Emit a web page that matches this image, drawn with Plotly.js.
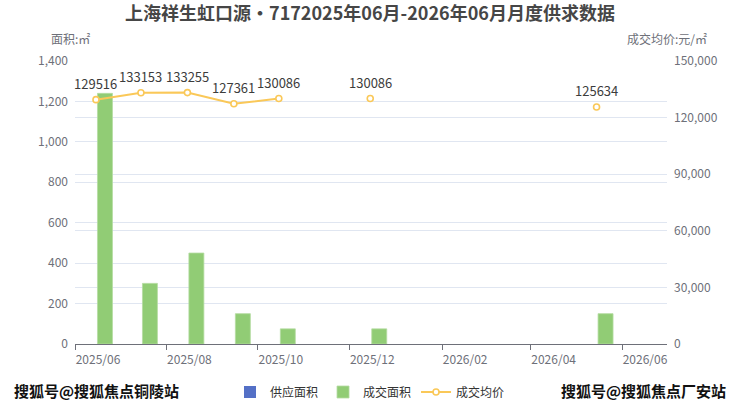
<!DOCTYPE html>
<html>
<head>
<meta charset="utf-8">
<script src="https://cdn.plot.ly/plotly-3.0.1.min.js"></script>
<style>html,body{margin:0;padding:0;background:#fff}#chart{width:740px;height:406px}</style>
</head>
<body>
<div id="chart"></div>
<script>
var months = ['2025-06-15','2025-07-15','2025-08-15','2025-09-15','2025-10-15','2025-11-15','2025-12-15','2026-01-15','2026-02-15','2026-03-15','2026-04-15','2026-05-15'];
var supplyArea = [null,null,null,null,null,null,null,null,null,null,null,null];
var dealArea = [1240,300,450,150,75,null,75,null,null,null,null,150];
var dealPrice = [129516,133153,133255,127361,130086,null,130086,null,null,null,null,125634];

var DAY = 86400000;
var FONT = '"Noto Sans CJK SC", "Noto Sans", sans-serif';

var traces = [
  {type:'bar', name:'供应面积', x:months, y:supplyArea, marker:{color:'#5470c6'},
   width:10*DAY, offset:-11*DAY, yaxis:'y', hoverinfo:'skip'},
  {type:'bar', name:'成交面积', x:months, y:dealArea, marker:{color:'#91cc75', line:{color:'#b5dca2', width:0.8}},
   width:10*DAY, offset:1*DAY, yaxis:'y'},
  {type:'scatter', mode:'lines+markers', name:'成交均价', x:months, y:dealPrice, yaxis:'y2',
   connectgaps:false, line:{color:'#fac858', width:2},
   marker:{symbol:'circle', size:6, color:'#ffffff', line:{color:'#fac858', width:1.6}}}
];

var labelAnnotations = [];
months.forEach(function(m, i){
  if (dealPrice[i] != null) {
    labelAnnotations.push({text:String(dealPrice[i]), x:m, y:dealPrice[i], xref:'x', yref:'y2',
      xanchor:'center', yanchor:'middle', yshift:16, showarrow:false,
      font:{size:13, color:'#3c3c3c', family:FONT}});
  }
});

var layout = {
  width:740, height:406,
  margin:{l:75, r:73, t:61, b:62},
  paper_bgcolor:'#fff', plot_bgcolor:'#fff',
  font:{family:FONT, color:'#6e7079', size:12},
  title:{text:'<b>上海祥生虹口源•7172025年06月-2026年06月月度供求数据</b>', x:0.5, xref:'container', xanchor:'center',
         y:1-14/406, yref:'container', yanchor:'middle', font:{size:18, color:'#464646', family:FONT}},
  barmode:'overlay',
  showlegend:true,
  legend:{orientation:'h', x:0.5, xref:'container', xanchor:'center', y:1-392/406, yref:'container', yanchor:'middle',
          font:{size:12, color:'#333', family:FONT}, itemwidth:30, traceorder:'normal'},
  xaxis:{type:'date', range:['2025-06-01','2026-07-01'], tick0:'2025-06-01', dtick:'M2', tickformat:'%Y/%m',
         ticks:'outside', ticklen:5, tickcolor:'#6e7079', showline:true, linecolor:'#6e7079', linewidth:1,
         ticklabelshift:23,
         showgrid:false, zeroline:false, tickfont:{size:12, color:'#6e7079'}},
  yaxis:{range:[0,1400], dtick:200, tickformat:',d', showgrid:true, gridcolor:'#e0e6f1', zeroline:false,
         showline:false, ticks:'', ticklabelstandoff:6, tickfont:{size:12, color:'#6e7079'}},
  yaxis2:{range:[0,150000], dtick:30000, tickformat:',d', overlaying:'y', side:'right', showgrid:true, gridcolor:'#e0e6f1',
          zeroline:false, showline:false, ticks:'', ticklabelstandoff:6, tickfont:{size:12, color:'#6e7079'}},
  annotations:labelAnnotations.concat([
    {text:'面积:㎡', xref:'paper', yref:'paper', x:-0.008, y:1+(61-38)/283, xanchor:'center', yanchor:'middle', showarrow:false,
     font:{size:12, color:'#6e7079', family:FONT}},
    {text:'成交均价:元/㎡', xref:'paper', yref:'paper', x:1.0, y:1+(61-38)/283, xanchor:'center', yanchor:'middle', showarrow:false,
     font:{size:12, color:'#6e7079', family:FONT}},
    {text:'<b>搜狐号@搜狐焦点铜陵站</b>', xref:'paper', yref:'paper', x:(12-75)/592, y:-(390-344)/283, xanchor:'left', yanchor:'middle', showarrow:false,
     font:{size:15, color:'#111', family:FONT}},
    {text:'<b>搜狐号@搜狐焦点厂安站</b>', xref:'paper', yref:'paper', x:(728-75)/592, y:-(390-344)/283, xanchor:'right', yanchor:'middle', showarrow:false,
     font:{size:15, color:'#111', family:FONT}}
  ])
};

Plotly.newPlot('chart', traces, layout, {displayModeBar:false, staticPlot:true});
</script>
</body>
</html>
